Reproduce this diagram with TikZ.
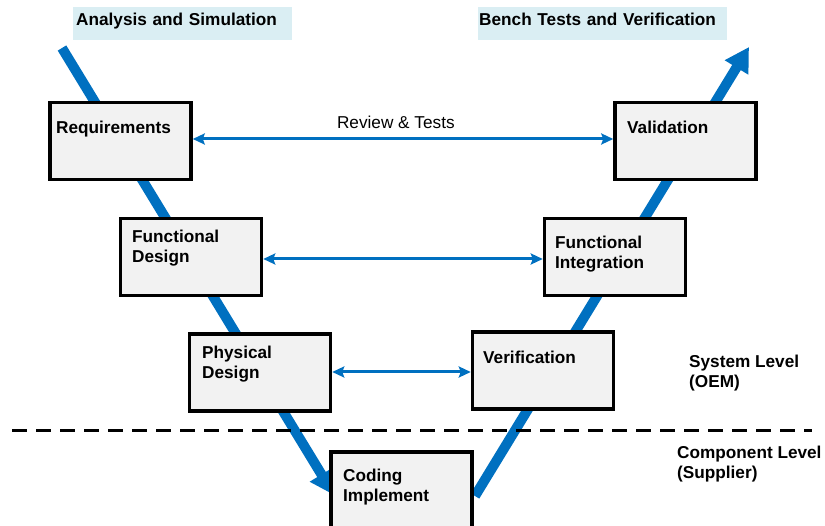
\documentclass[tikz,border=0pt]{standalone}
\usepackage{fontspec}
\setmainfont{Liberation Sans}
\usetikzlibrary{arrows.meta}
\definecolor{vblue}{RGB}{0,112,192}
\definecolor{tblue}{RGB}{218,238,243}
\definecolor{boxgray}{RGB}{242,242,242}
\begin{document}
\begin{tikzpicture}[x=1pt,y=-1pt,
  stagebox/.style={draw=black, line width=3.5pt, fill=boxgray, inner sep=0pt, minimum width=141pt, minimum height=77pt},
  lbl/.style={font=\fontsize{17.2}{20.5}\selectfont\bfseries, inner sep=0pt, anchor=north west, align=left},
  titlebox/.style={fill=tblue, font=\fontsize{17.2}{20.5}\selectfont\bfseries, inner ysep=0pt, text height=18pt, text depth=15pt, align=left, anchor=north west},
  vline/.style={draw=vblue, line width=10pt, line cap=butt},
  vtip/.style={-{Triangle[width=26pt,length=24pt]}},
  hlink/.style={draw=vblue, line width=3pt, {Stealth[length=12pt,width=11pt,inset=2pt]}-{Stealth[length=12pt,width=11pt,inset=2pt]}},
  dashline/.style={draw=black, line width=3pt, dash pattern=on 15pt off 9pt}
]
\useasboundingbox (0,0) rectangle (825,526);

% title boxes
\node[titlebox, inner xsep=3pt, text width=213pt] (t1) at (73,7) {Analysis and Simulation};
\node[titlebox, inner xsep=1pt, text width=247pt] (t2) at (478,7) {Bench Tests and Verification};

% V path
\coordinate (vLs) at (62,48);
\coordinate (vLe) at (334,495);
\coordinate (vRs) at (475,496);
\coordinate (vRe) at (749,47);
\draw[vline, vtip] (vLs) -- (vLe);
\draw[vline, vtip] (vRs) -- (vRe);

% dashed level divider
\coordinate (d1) at (12,431);
\coordinate (d2) at (812,431);
\draw[dashline] (d1) -- (d2);

% stage boxes
\node[stagebox] (req) at (120.5,141) {};
\node[stagebox] (val) at (685.5,141) {};
\node[stagebox] (fd)  at (191,257) {};
\node[stagebox] (fi)  at (615,257) {};
\node[stagebox] (pd)  at (260,372.5) {};
\node[stagebox] (ver) at (543,370.5) {};
\node[stagebox, minimum height=88pt] (ci) at (401.5,496) {};

% box labels
\node[lbl] (reqt) at (56,120.8) {Requirements};
\node[lbl] (valt) at (627,120.8) {Validation};
\node[lbl] (fdt)  at (132,229.8) {Functional\\Design};
\node[lbl] (fit)  at (555,235.8) {Functional\\Integration};
\node[lbl] (pdt)  at (202,345.8) {Physical\\Design};
\node[lbl] (vert) at (483,350.8) {Verification};
\node[lbl] (cit)  at (343,468.8) {Coding\\Implement};

% side labels
\node[lbl] (sys)  at (689,354.7) {System Level\\(OEM)};
\node[lbl] (comp) at (677,445.7) {Component Level\\(Supplier)};

% horizontal links
\draw[hlink] (req.east |- 0,139) -- (val.west |- 0,139)
  node[pos=0.483, anchor=base, yshift=10pt, font=\fontsize{17.2}{20.5}\selectfont, inner sep=0pt] (rt) {Review \& Tests};
\draw[hlink] (fd.east |- 0,259) -- (fi.west |- 0,259);
\draw[hlink] (pd.east |- 0,372) -- (ver.west |- 0,372);
\end{tikzpicture}
\end{document}
